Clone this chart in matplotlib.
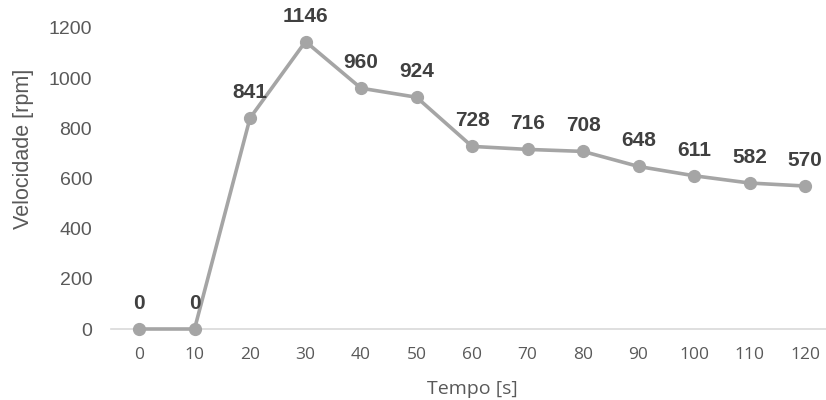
import matplotlib
matplotlib.use("Agg")
import matplotlib.pyplot as plt

# Speed over time
tempo = [0, 10, 20, 30, 40, 50, 60, 70, 80, 90, 100, 110, 120]
velocidade = [0, 0, 841, 1146, 960, 924, 728, 716, 708, 648, 611, 582, 570]
y_ticks = [0, 200, 400, 600, 800, 1000, 1200]

line_color = "#A5A5A5"
label_color = "#404040"
tick_color = "#595959"

fig = plt.figure(figsize=(8.26, 4.0), dpi=100)
ax = fig.add_axes([111 / 826, 71 / 400, 715 / 826, 301 / 400])

x = list(range(len(tempo)))
ax.plot(x, velocidade, color=line_color, linewidth=2.6, marker="o",
        markersize=8.5, markerfacecolor=line_color, markeredgecolor=line_color,
        clip_on=False, zorder=3)

for xi, v in zip(x, velocidade):
    ax.annotate(f"{v}", (xi, v), xytext=(0, 11.5), textcoords="offset points",
                ha="center", va="bottom", fontsize=15, fontweight="bold",
                color=label_color, family="Liberation Sans",
                annotation_clip=False)

ax.set_xlim(-0.505, 12.378)
ax.set_ylim(0, 1200)
ax.set_xticks(x)
ax.set_xticklabels([str(t) for t in tempo], family="Open Sans", fontsize=12.5,
                   color=tick_color)
ax.set_yticks(y_ticks)
ax.set_yticklabels([str(t) for t in y_ticks], family="Liberation Sans",
                   fontsize=14, color=tick_color)

for side in ("top", "right", "left"):
    ax.spines[side].set_visible(False)
ax.spines["bottom"].set_color("#D9D9D9")
ax.spines["bottom"].set_linewidth(1.2)
ax.tick_params(axis="both", length=0)
ax.tick_params(axis="x", pad=13)
ax.tick_params(axis="y", pad=13.5)

ax.set_xlabel("Tempo [s]", family="Open Sans", fontsize=14, color=tick_color)
ax.xaxis.set_label_coords((472 - 111) / 715, (329 - 380) / 301)
ax.set_ylabel("Velocidade [rpm]", family="Liberation Sans", fontsize=15.5,
              color=tick_color, va="center")
ax.yaxis.set_label_coords((24 - 111) / 715, (329 - 149) / 301)

fig.savefig("out.png", dpi=100)
